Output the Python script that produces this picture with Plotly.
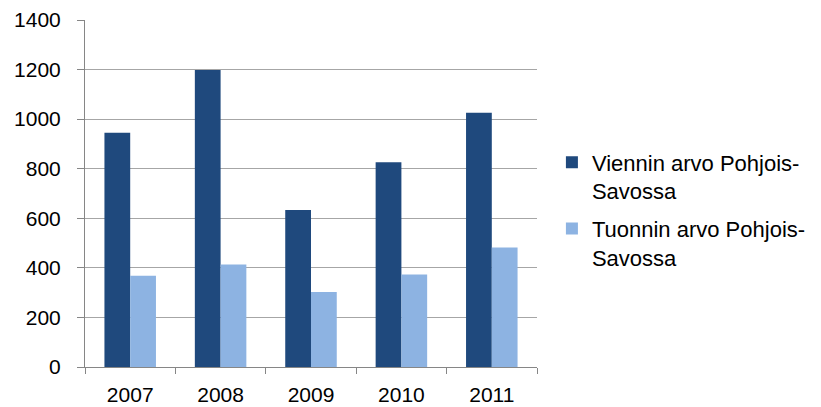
import plotly.graph_objects as go

years = ["2007", "2008", "2009", "2010", "2011"]
exports = [945, 1198, 633, 826, 1026]
imports = [368, 414, 303, 373, 482]
series_names = ["Viennin arvo Pohjois-<br>Savossa", "Tuonnin arvo Pohjois-<br>Savossa"]
y_ticks = [0, 200, 400, 600, 800, 1000, 1200, 1400]

FONT = "Liberation Sans, Arial, sans-serif"

fig = go.Figure()
fig.add_trace(go.Bar(x=years, y=exports, name=series_names[0],
                     marker=dict(color="#1F497D", line=dict(width=0)),
                     legendgroup="a"))
fig.add_trace(go.Bar(x=years, y=imports, name=series_names[1],
                     marker=dict(color="#8DB3E2", line=dict(width=0)),
                     legendgroup="b"))

fig.update_layout(
    width=821, height=407,
    margin=dict(l=85, r=284, t=20, b=40, autoexpand=False),
    paper_bgcolor="white", plot_bgcolor="white",
    barmode="group", bargap=0.43, bargroupgap=0,
    font=dict(family=FONT, size=21, color="#000000"),
    showlegend=True,
    legend=dict(x=1.033, y=0.65, xanchor="left", yanchor="top",
                font=dict(family=FONT, size=22, color="#000000"),
                valign="top", tracegroupgap=6, traceorder="grouped",
                bgcolor="rgba(0,0,0,0)"),
)
fig.update_xaxes(
    type="category", showline=True, linecolor="#868686", linewidth=1,
    ticks="outside", tickson="boundaries", ticklen=6, tickcolor="#868686",
    showgrid=False, tickfont=dict(size=21), ticklabelstandoff=9,
    automargin=False,
)
fig.update_yaxes(
    range=[0, 1400], tickvals=y_ticks, showline=True, linecolor="#868686",
    linewidth=1, ticks="outside", ticklen=7, tickcolor="#868686",
    showgrid=True, gridcolor="#A6A6A6", gridwidth=1, zeroline=False,
    tickfont=dict(size=21), ticklabelstandoff=12, automargin=False,
)

fig.write_html("out.html")
